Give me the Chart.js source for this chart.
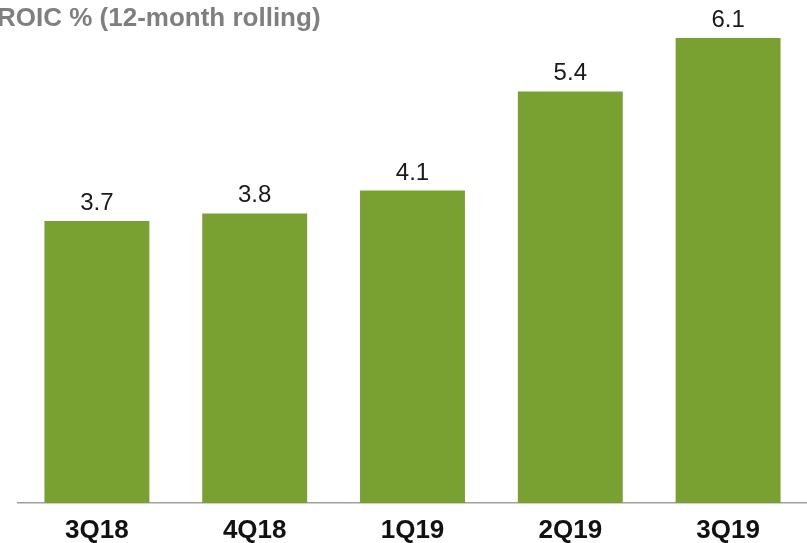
<!DOCTYPE html>
<html>
<head>
<meta charset="utf-8">
<script src="https://cdn.jsdelivr.net/npm/chart.js@4"></script>
<style>
    html, body { margin: 0; padding: 0; background: #fff; overflow: hidden; }
    #wrap { position: relative; width: 807px; height: 543px; }
    #title {
        position: absolute; left: -3px; top: 2px;
        font: bold 26px "Liberation Sans", Arial, sans-serif;
        color: #7f7f7f; white-space: nowrap;
    }
</style>
</head>
<body>
<div id="wrap">
    <canvas id="roic-chart" width="807" height="543"></canvas>
    <div id="title">ROIC % (12-month rolling)</div>
</div>
<script>
// --- DATA ---
const quarters = ['3Q18', '4Q18', '1Q19', '2Q19', '3Q19'];
const roicValues = [3.7, 3.8, 4.1, 5.4, 6.1];

const FONT = '"Liberation Sans", Arial, sans-serif';

// value labels above each bar
const valueLabels = {
    id: 'valueLabels',
    afterDatasetsDraw(chart) {
        const ctx = chart.ctx;
        const meta = chart.getDatasetMeta(0);
        ctx.save();
        ctx.font = '24px ' + FONT;
        ctx.fillStyle = '#1a1a1a';
        ctx.textAlign = 'center';
        ctx.textBaseline = 'alphabetic';
        meta.data.forEach((bar, i) => {
            ctx.fillText(roicValues[i].toFixed(1), bar.x, bar.y - 11);
        });
        ctx.restore();
    }
};

new Chart(document.getElementById('roic-chart'), {
    type: 'bar',
    data: {
        labels: quarters,
        datasets: [{
            data: roicValues,
            backgroundColor: '#78a132',
            borderWidth: 0,
            barPercentage: 0.665,
            categoryPercentage: 1
        }]
    },
    options: {
        responsive: false,
        animation: false,
        layout: { padding: { left: 18, right: 0, top: 0, bottom: 0 } },
        plugins: { legend: { display: false }, tooltip: { enabled: false } },
        scales: {
            x: {
                grid: { display: false, drawTicks: false },
                border: { display: true, color: '#a0a0a0', width: 1.5 },
                ticks: { color: '#111', padding: 12, font: { family: FONT, size: 26, weight: 'bold' } },
                afterFit(scale) { scale.height = 40; }
            },
            y: { display: false, min: 0, max: 6.6 }
        }
    },
    plugins: [valueLabels]
});
</script>
</body>
</html>
